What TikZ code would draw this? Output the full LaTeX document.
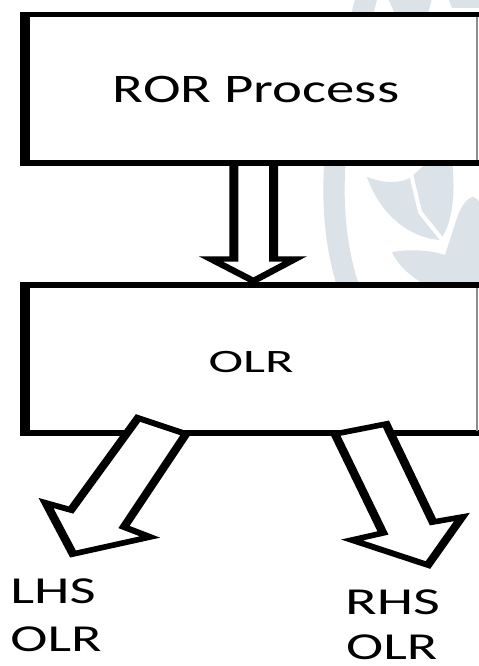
\documentclass[tikz,border=0pt]{standalone}
\usepackage{fontspec}
\setmainfont{Carlito}
\definecolor{wmark}{RGB}{220,227,232}
\newcommand{\stretchtext}[2]{\scalebox{#1}[1]{#2}}
\tikzset{
  outline/.style={line width=4.1pt, draw=black, fill=white, line join=miter, miter limit=10},
  txt/.style={inner sep=0pt, text=black},
  edgeline/.style={draw=black!45, line width=0.8pt},
  wm/.style={fill=wmark, draw=none}
}
\begin{document}
\begin{tikzpicture}[x=0.75pt,y=-0.75pt]
\useasboundingbox (0,0) rectangle (478,666);
\fill[white] (0,0) rectangle (478,666);

% faint emblem in the background
\draw[wmark, line width=16pt] (368,-8) .. controls (345,80) and (315,190) .. (350,292);
\fill[wm] (367,177) .. controls (385,184) and (400,183) .. (410,178) -- (430,160)
  -- (452,160) .. controls (456,195) and (452,225) .. (440,240)
  .. controls (410,238) and (380,215) .. (367,177) -- cycle;
\draw[white, line width=3pt] (410,170) -- (420,212) -- (444,242);
\fill[wm] (473,197) .. controls (478,199) .. (482,210) -- (482,292) -- (440,292)
  .. controls (415,282) and (398,266) .. (392,252)
  .. controls (410,249) and (430,250) .. (445,255) -- (458,215)
  .. controls (462,205) and (467,198) .. (473,197) -- cycle;
\fill[wm] (388,-2) -- (432,-2) -- (428,14) -- (395,14) -- cycle;
\fill[wm] (448,-2) -- (480,-2) -- (480,8) -- (452,8) -- cycle;

% boxes and block arrows, drawn on a horizontally stretched canvas
\begin{scope}[transform canvas={xscale=1.65}, x=0.4545pt]
  % arrow between the two boxes
  \coordinate (d1) at (233.9,163);
  \coordinate (d2) at (233.9,259);
  \coordinate (d3) at (211,259);
  \coordinate (d4) at (253.5,281);
  \coordinate (d5) at (295,259);
  \coordinate (d6) at (273.7,259);
  \coordinate (d7) at (273.7,163);
  \draw[outline] (d1) -- (d2) -- (d3) -- (d4) -- (d5) -- (d6) -- (d7);

  % upper box
  \draw[outline] (25,14.5) rectangle (560,163);
  % lower box
  \draw[outline] (25,285) rectangle (560,433);

  % left branch arrow
  \coordinate (l1) at (138,418);
  \coordinate (l2) at (186,434);
  \coordinate (l3) at (124,527);
  \coordinate (l4) at (150,537);
  \coordinate (l5) at (73,554);
  \coordinate (l6) at (46,503);
  \coordinate (l7) at (71,510);
  \draw[outline] (l1) -- (l2) -- (l3) -- (l4) -- (l5) -- (l6) -- (l7) -- cycle;

  % right branch arrow
  \coordinate (r1) at (335,434);
  \coordinate (r2) at (386,424);
  \coordinate (r3) at (433,522);
  \coordinate (r4) at (462,517);
  \coordinate (r5) at (428,565);
  \coordinate (r6) at (352,540);
  \coordinate (r7) at (383,533);
  \draw[outline] (r1) -- (r2) -- (r3) -- (r4) -- (r5) -- (r6) -- (r7) -- cycle;
\end{scope}

% thin right edges of the boxes
\draw[edgeline] (477,17) -- (477,160.5);
\draw[edgeline] (477,287.5) -- (477,430.5);

% labels
\node[txt, font=\fontsize{30.4pt}{34pt}\selectfont] (ror) at (256,89.5) {\stretchtext{1.40}{ROR Process}};
\node[txt, font=\fontsize{24.5pt}{28pt}\selectfont] (olr) at (251,362) {\stretchtext{1.60}{OLR}};
\node[txt, font=\fontsize{28.6pt}{33pt}\selectfont] (lhs) at (53,591) {\stretchtext{1.49}{LHS}};
\node[txt, font=\fontsize{28.6pt}{33pt}\selectfont] (lhsolr) at (56,639) {\stretchtext{1.47}{OLR}};
\node[txt, font=\fontsize{28.6pt}{33pt}\selectfont] (rhs) at (392.5,602) {\stretchtext{1.53}{RHS}};
\node[txt, font=\fontsize{28.6pt}{33pt}\selectfont] (rhsolr) at (391.7,647.5) {\stretchtext{1.47}{OLR}};
\end{tikzpicture}
\end{document}
